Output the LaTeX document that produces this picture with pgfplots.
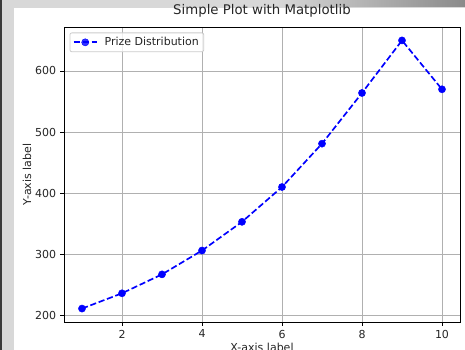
\documentclass[border=0pt]{standalone}
\usepackage{pgfplots}
\pgfplotsset{compat=1.18}
\usepackage{fontspec}
\setmainfont{DejaVu Sans}
\definecolor{frameL}{HTML}{D8D8D8}
\definecolor{frameD}{HTML}{3A3A3A}
\definecolor{bandD}{HTML}{8A8A8A}
\definecolor{gridc}{HTML}{B0B0B0}
\definecolor{legc}{HTML}{CCCCCC}
\begin{document}
\begin{tikzpicture}
\clip (0pt,0pt) rectangle (465pt,350pt);
\fill[frameL] (0pt,0pt) rectangle (465pt,350pt);
\fill[frameD] (0pt,0pt) rectangle (1.5pt,350pt);
\shade[left color=frameL, right color=bandD] (275pt,343pt) rectangle (465pt,350pt);
\fill[white] (14pt,0pt) rectangle (465pt,342pt);
\begin{axis}[
  at={(64pt,28pt)}, anchor=south west,
  scale only axis, width=396pt, height=295pt,
  xmin=0.55, xmax=10.45, ymin=189, ymax=672,
  xtick={2,4,6,8,10}, ytick={200,300,400,500,600},
  tick pos=left, tick align=outside,
  major tick length=3.9pt,
  every tick/.style={black, line width=0.9pt},
  axis line style={black, line width=0.9pt},
  grid=major,
  major grid style={gridc, line width=0.9pt},
  /pgf/number format/assume math mode=true,
  ticklabel style={font=\fontsize{11}{13}\selectfont, color=black!85},
  xticklabel style={yshift=-0.5pt},
  yticklabel style={xshift=-0.5pt},
  title={Simple Plot with Matplotlib},
  title style={at={(axis description cs:0.5,1)}, anchor=base, yshift=6.7pt, inner sep=0pt, font=\fontsize{13.3}{15}\selectfont, color=black!85},
  xlabel={X-axis label},
  xlabel style={at={(axis description cs:0.5,0)}, anchor=north, yshift=-21pt, inner sep=0pt, font=\fontsize{11}{13}\selectfont, color=black!85},
  ylabel={Y-axis label},
  ylabel style={at={(axis description cs:-0.0934,0.5)}, anchor=center, inner sep=0pt, font=\fontsize{11}{13}\selectfont, color=black!85},
  legend style={at={(axis description cs:0,1)}, anchor=north west, xshift=5.5pt, yshift=-5.5pt,
    draw=legc, line width=0.8pt, rounded corners=2pt, fill=white, fill opacity=0.8, text opacity=1,
    font=\fontsize{11}{13}\selectfont, inner xsep=3pt, inner ysep=2.5pt, cells={anchor=west}, text=black!85},
  legend image code/.code={\draw[#1, mark repeat=2, mark phase=2] plot coordinates {(0pt,0pt) (11.5pt,0pt) (23pt,0pt)}; \path (0pt,0pt) (28pt,0pt);},
]
\addplot[color=blue, line width=1.67pt, dash pattern=on 6.2pt off 2.7pt,
  mark=*, mark size=3.6pt, mark options={solid, fill=blue, draw=blue, line width=0.4pt}]
  coordinates {(1,211) (2,236) (3,267) (4,306) (5,353) (6,410) (7,481) (8,564) (9,650) (10,570)};
\addlegendentry{Prize Distribution}
\end{axis}
\end{tikzpicture}
\end{document}
